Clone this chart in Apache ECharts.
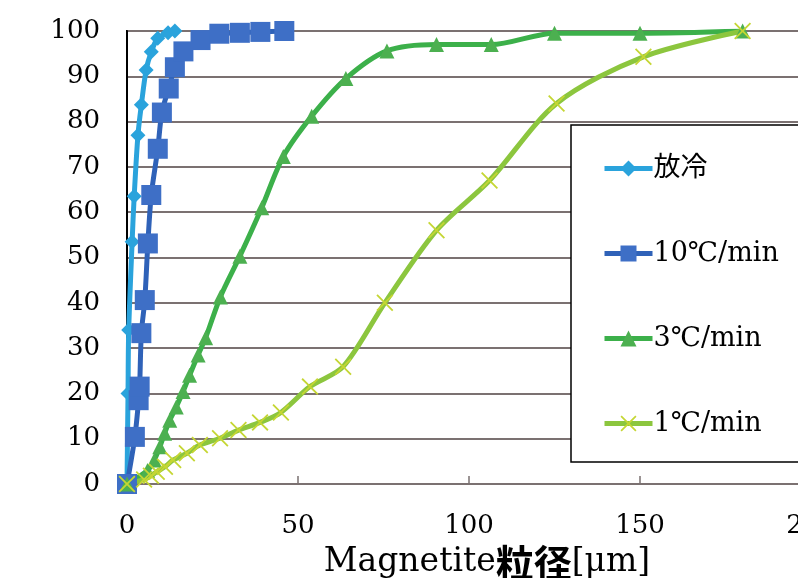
<!DOCTYPE html>
<html>
<head>
<meta charset="utf-8">
<script src="https://cdn.jsdelivr.net/npm/echarts@6/dist/echarts.min.js"></script>
<style>html,body{margin:0;padding:0;background:#fff}#c{width:798px;height:578px}</style>
</head>
<body>
<div id="c"></div>
<script>
const seriesNames = ['放冷', '10℃/min', '3℃/min', '1℃/min'];
const coolX = [0, 0.3, 0.5, 1.5, 2.1, 3.2, 4.2, 5.6, 7.1, 9, 12, 14];
const coolY = [0, 20, 34, 53.5, 63.5, 77, 83.7, 91.4, 95.4, 98.4, 99.6, 100];
const tenX = [0, 2.3, 3.4, 3.7, 4.2, 5.2, 6.1, 7.1, 9, 10.2, 12.2, 14, 16.5, 21.5, 27, 33, 39, 46];
const tenY = [0, 10.4, 18.5, 21.5, 33.3, 40.6, 53.1, 63.8, 74, 82, 87.3, 92, 95.5, 98, 99.4, 99.6, 99.8, 100];
const threeX = [0, 6, 8, 9.6, 11, 12.5, 14.4, 16.4, 18.3, 20.8, 23, 27.3, 33, 39.4, 45.7, 54, 64, 76, 90.5, 106.5, 125, 150, 180];
const threeY = [0, 3, 5.3, 8.2, 11.2, 14.1, 17, 20.4, 24, 28.5, 32.3, 41.3, 50.3, 61, 72.3, 81.2, 89.5, 95.6, 97, 97, 99.5, 99.5, 100];
const oneX = [0, 5, 7, 8.7, 11.1, 13.5, 17.5, 21.3, 27.2, 32.6, 38.9, 45, 53.5, 63.2, 75.4, 90.5, 106, 125.6, 151, 180];
const oneY = [0, 1, 1.8, 2.7, 3.8, 5.3, 6.8, 8.6, 10.1, 11.9, 13.6, 15.8, 21.5, 25.9, 40, 56, 67, 84, 94.3, 100];
const xTicks = [0, 50, 100, 150, 200];
const yTicks = [0, 10, 20, 30, 40, 50, 60, 70, 80, 90, 100];

function pairs(xs, ys) { return xs.map((x, i) => [x, ys[i]]); }

const serif = "'DejaVu Serif', 'Noto Sans CJK JP', serif";
const xMark = 'path://M0,1.5L1.5,0L10,8.5L18.5,0L20,1.5L11.5,10L20,18.5L18.5,20L10,11.5L1.5,20L0,18.5L8.5,10Z';

const chart = echarts.init(document.getElementById('c'), null, {renderer: 'canvas'});
chart.setOption({
  animation: false,
  backgroundColor: '#fff',
  grid: {left: 127, top: 31, width: 684, height: 453, containLabel: false, outerBoundsMode: 'none',
         show: true, borderColor: '#000', borderWidth: 2, backgroundColor: 'transparent'},
  xAxis: {
    type: 'value', min: xTicks[0], max: xTicks[xTicks.length - 1], interval: xTicks[1] - xTicks[0],
    axisLine: {show: true, lineStyle: {color: '#7b7171', width: 2}},
    axisTick: {show: true, inside: true, length: 8, lineStyle: {color: '#7b7171', width: 1.5}},
    splitLine: {show: false},
    axisLabel: {color: '#000', fontFamily: serif, fontSize: 26, margin: 29, showMaxLabel: true},
    name: '{a|Magnetite}{b|粒径}{a|[μm]}',
    nameLocation: 'middle', nameGap: 51,
    nameTextStyle: {padding: [0, 0, 0, 36], rich: {
      a: {fontFamily: serif, fontSize: 33, color: '#000'},
      b: {fontFamily: "'Noto Sans CJK JP', sans-serif", fontWeight: 'bold', fontSize: 38, color: '#000'}
    }}
  },
  yAxis: {
    type: 'value', min: yTicks[0], max: yTicks[yTicks.length - 1], interval: yTicks[1] - yTicks[0],
    axisLine: {show: true, lineStyle: {color: '#000', width: 2}},
    axisTick: {show: false},
    splitLine: {show: true, lineStyle: {color: '#7b7171', width: 2}},
    axisLabel: {color: '#000', fontFamily: serif, fontSize: 26, margin: 27}
  },
  legend: {
    orient: 'vertical', left: 571, top: 125,
    data: seriesNames,
    itemWidth: 48, itemHeight: 20, itemGap: 58,
    padding: [30, 40, 25, 31],
    lineStyle: {width: 5},
    backgroundColor: '#fff', borderColor: '#000', borderWidth: 1.5, borderRadius: 0,
    textStyle: {fontFamily: serif, fontSize: 27, color: '#000', padding: [0, 0, 0, -4]}
  },
  series: [
    {name: seriesNames[0], type: 'line', data: pairs(coolX, coolY), smooth: 0.3,
     symbol: 'diamond', symbolSize: 15, lineStyle: {color: '#2aa3dc', width: 5}, itemStyle: {color: '#2aa3dc'}},
    {name: seriesNames[1], type: 'line', data: pairs(tenX, tenY), smooth: 0.3,
     symbol: 'rect', symbolSize: 20, lineStyle: {color: '#2f62b8', width: 5}, itemStyle: {color: '#3e6fc6'}},
    {name: seriesNames[2], type: 'line', data: pairs(threeX, threeY), smooth: 0.3,
     symbol: 'triangle', symbolSize: 15, lineStyle: {color: '#3cb04a', width: 5}, itemStyle: {color: '#4cb050'}},
    {name: seriesNames[3], type: 'line', data: pairs(oneX, oneY), smooth: 0.3,
     symbol: xMark, symbolSize: 17, lineStyle: {color: '#8cc63e', width: 5}, itemStyle: {color: '#c5d633'}}
  ]
});
</script>
</body>
</html>
